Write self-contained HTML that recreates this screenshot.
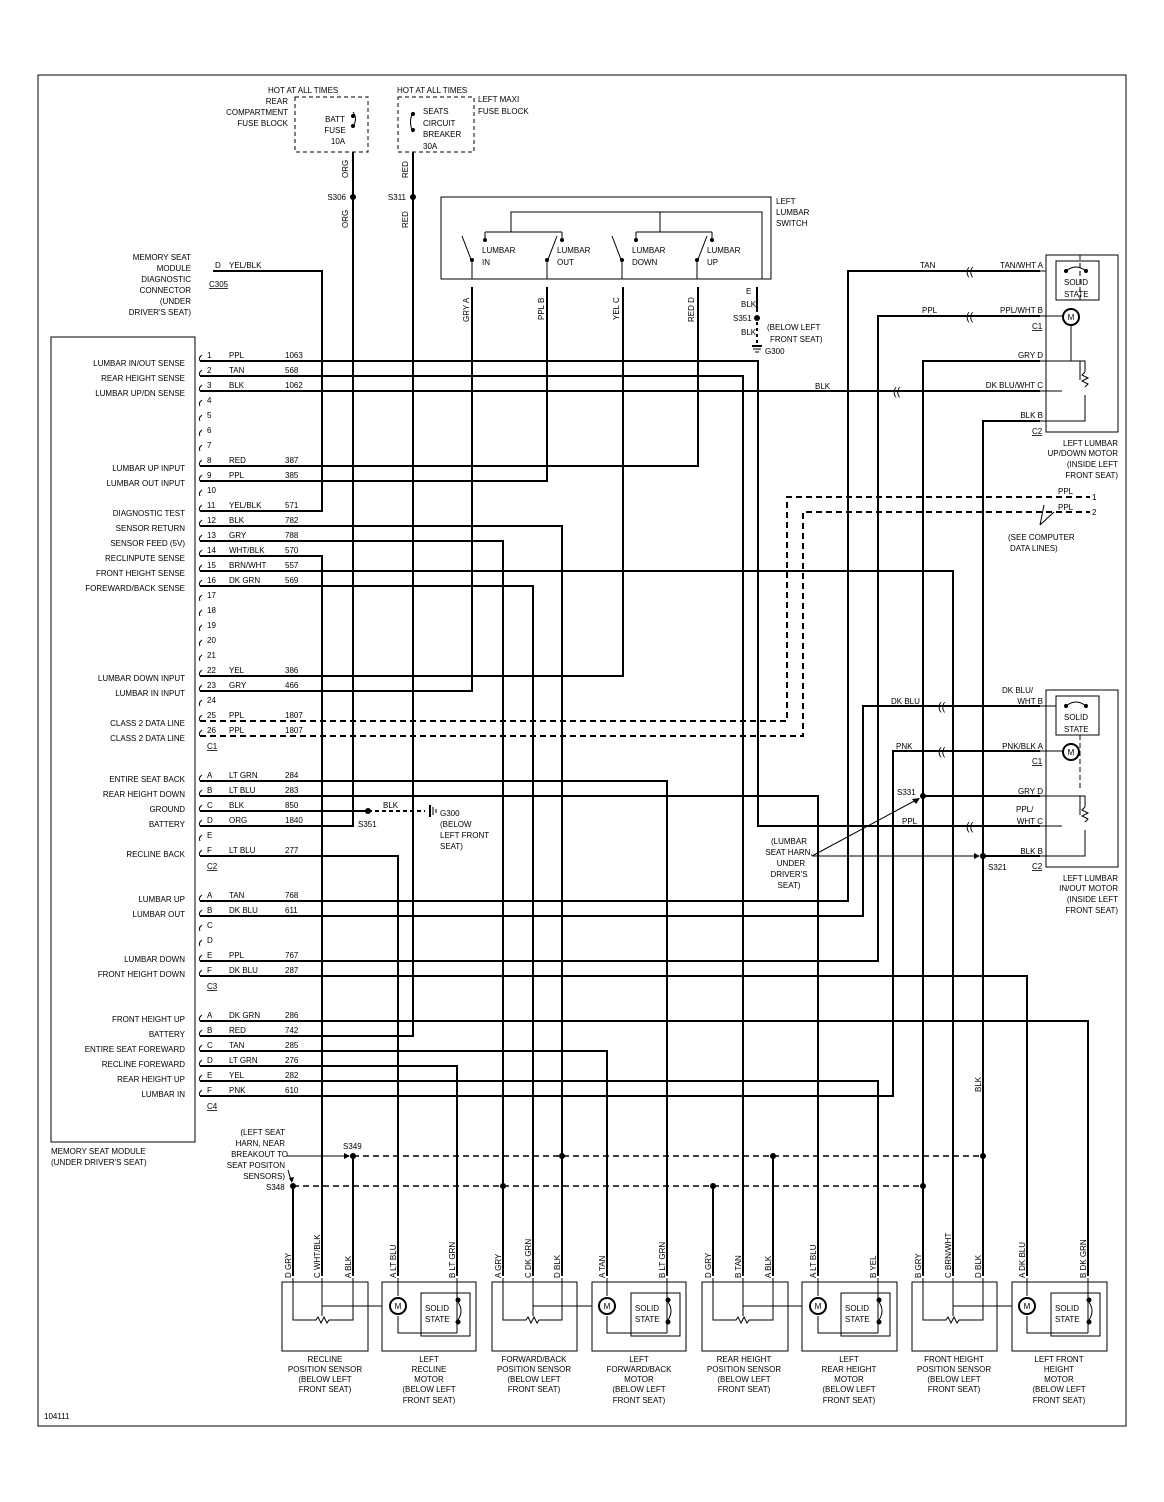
<!DOCTYPE html>
<html><head><meta charset="utf-8"><style>
body{margin:0;background:#fff}
svg{display:block}
text{font-family:"Liberation Sans",sans-serif;font-size:8px;fill:#000}
.r{text-anchor:end}.c{text-anchor:middle}
.w{fill:none;stroke:#000;stroke-width:2}
.n{fill:none;stroke:#000;stroke-width:1}
.d{fill:none;stroke:#000;stroke-width:2;stroke-dasharray:6,4}
</style></head><body>
<svg width="1164" height="1502" viewBox="0 0 1164 1502" xmlns="http://www.w3.org/2000/svg">
<defs>
<path id="cm" d="M202 -6 q-4 3 -2 6" fill="none" stroke="#000" stroke-width="1"/>
</defs>
<rect x="38" y="75" width="1088" height="1351" class="n"/>
<rect x="51" y="337" width="144" height="805" class="n"/>

<!-- top fuses -->
<rect x="295" y="97" width="73" height="55" fill="none" stroke="#000" stroke-dasharray="4,3"/>
<rect x="398" y="97" width="76" height="55" fill="none" stroke="#000" stroke-dasharray="4,3"/>
<text x="268" y="93">HOT AT ALL TIMES</text>
<text class="r" x="288" y="104">REAR</text><text class="r" x="288" y="115">COMPARTMENT</text><text class="r" x="288" y="126">FUSE BLOCK</text>
<text class="c" x="335" y="122">BATT</text><text class="c" x="335" y="133">FUSE</text><text class="c" x="338" y="144">10A</text>
<path class="n" d="M353 112 q5 7 0 14"/><circle cx="353" cy="116" r="2"/><circle cx="353" cy="126" r="2"/>
<text x="397" y="93">HOT AT ALL TIMES</text>
<text x="478" y="102">LEFT MAXI</text><text x="478" y="114">FUSE BLOCK</text>
<text x="423" y="114">SEATS</text><text x="423" y="126">CIRCUIT</text><text x="423" y="137">BREAKER</text><text x="423" y="149">30A</text>
<path class="n" d="M413 112 q-5 10 0 20"/><circle cx="413" cy="114" r="2"/><circle cx="413" cy="130" r="2"/>
<path class="w" d="M353 152 V197"/><path class="w" d="M413 152 V197"/>
<circle cx="353" cy="197" r="3"/><circle cx="413" cy="197" r="3"/>
<text class="r" x="346" y="200">S306</text><text class="r" x="406" y="200">S311</text>
<text transform="translate(348,178) rotate(-90)">ORG</text><text transform="translate(408,178) rotate(-90)">RED</text>
<text transform="translate(348,228) rotate(-90)">ORG</text><text transform="translate(408,228) rotate(-90)">RED</text>

<!-- lumbar switch -->
<rect x="441" y="197" width="330" height="82" class="n"/>
<text x="776" y="204">LEFT</text><text x="776" y="215">LUMBAR</text><text x="776" y="226">SWITCH</text>
<path class="n" d="M511 232 V212 H762 V279 M660 212 V232 M485 232 H562 M636 232 H712 M485 232 V240 M562 232 V240 M636 232 V240 M712 232 V240"/>
<path class="n" d="M472 279 V262 L462 236 M547 279 V262 L557 236 M622 279 V262 L612 236 M697 279 V262 L707 236"/>
<circle cx="472" cy="260" r="2"/><circle cx="547" cy="260" r="2"/><circle cx="622" cy="260" r="2"/><circle cx="697" cy="260" r="2"/>
<circle cx="485" cy="240" r="2"/><circle cx="562" cy="240" r="2"/><circle cx="636" cy="240" r="2"/><circle cx="712" cy="240" r="2"/>
<text x="482" y="253">LUMBAR</text><text x="482" y="265">IN</text>
<text x="557" y="253">LUMBAR</text><text x="557" y="265">OUT</text>
<text x="632" y="253">LUMBAR</text><text x="632" y="265">DOWN</text>
<text x="707" y="253">LUMBAR</text><text x="707" y="265">UP</text>
<text transform="translate(469,322) rotate(-90)">GRY  A</text>
<text transform="translate(544,320) rotate(-90)">PPL  B</text>
<text transform="translate(619,320) rotate(-90)">YEL  C</text>
<text transform="translate(694,322) rotate(-90)">RED  D</text>
<text x="746" y="294">E</text>
<text x="741" y="307">BLK</text><text x="733" y="321">S351</text><text x="741" y="335">BLK</text>
<text x="767" y="330">(BELOW LEFT</text><text x="770" y="342">FRONT SEAT)</text>
<text x="765" y="354">G300</text>
<path class="w" d="M757 287 V312"/><path class="d" d="M757 322 V343" style="stroke-dasharray:3,3"/>
<circle cx="757" cy="318" r="3"/><path class="w" d="M752 346 H762"/><path class="n" d="M753 349 H761 M755 352 H759"/>

<!-- diagnostic connector -->
<text class="r" x="191" y="260">MEMORY SEAT</text><text class="r" x="191" y="271">MODULE</text><text class="r" x="191" y="282">DIAGNOSTIC</text><text class="r" x="191" y="293">CONNECTOR</text><text class="r" x="191" y="304">(UNDER</text><text class="r" x="191" y="315">DRIVER'S SEAT)</text>
<text x="215" y="268">D</text><text x="229" y="268">YEL/BLK</text><text x="209" y="287" text-decoration="underline">C305</text>

<!-- module rows -->
<g>
<text x="207" y="358">1</text><text x="229" y="358">PPL</text><text x="285" y="358">1063</text>
<text x="207" y="373">2</text><text x="229" y="373">TAN</text><text x="285" y="373">568</text>
<text x="207" y="388">3</text><text x="229" y="388">BLK</text><text x="285" y="388">1062</text>
<text x="207" y="403">4</text><text x="207" y="418">5</text><text x="207" y="433">6</text><text x="207" y="448">7</text>
<text x="207" y="463">8</text><text x="229" y="463">RED</text><text x="285" y="463">387</text>
<text x="207" y="478">9</text><text x="229" y="478">PPL</text><text x="285" y="478">385</text>
<text x="207" y="493">10</text>
<text x="207" y="508">11</text><text x="229" y="508">YEL/BLK</text><text x="285" y="508">571</text>
<text x="207" y="523">12</text><text x="229" y="523">BLK</text><text x="285" y="523">782</text>
<text x="207" y="538">13</text><text x="229" y="538">GRY</text><text x="285" y="538">788</text>
<text x="207" y="553">14</text><text x="229" y="553">WHT/BLK</text><text x="285" y="553">570</text>
<text x="207" y="568">15</text><text x="229" y="568">BRN/WHT</text><text x="285" y="568">557</text>
<text x="207" y="583">16</text><text x="229" y="583">DK GRN</text><text x="285" y="583">569</text>
<text x="207" y="598">17</text><text x="207" y="613">18</text><text x="207" y="628">19</text><text x="207" y="643">20</text><text x="207" y="658">21</text>
<text x="207" y="673">22</text><text x="229" y="673">YEL</text><text x="285" y="673">386</text>
<text x="207" y="688">23</text><text x="229" y="688">GRY</text><text x="285" y="688">466</text>
<text x="207" y="703">24</text>
<text x="207" y="718">25</text><text x="229" y="718">PPL</text><text x="285" y="718">1807</text>
<text x="207" y="733">26</text><text x="229" y="733">PPL</text><text x="285" y="733">1807</text>
<text x="207" y="749" text-decoration="underline">C1</text>
<text x="207" y="778">A</text><text x="229" y="778">LT GRN</text><text x="285" y="778">284</text>
<text x="207" y="793">B</text><text x="229" y="793">LT BLU</text><text x="285" y="793">283</text>
<text x="207" y="808">C</text><text x="229" y="808">BLK</text><text x="285" y="808">850</text>
<text x="207" y="823">D</text><text x="229" y="823">ORG</text><text x="285" y="823">1840</text>
<text x="207" y="838">E</text>
<text x="207" y="853">F</text><text x="229" y="853">LT BLU</text><text x="285" y="853">277</text>
<text x="207" y="869" text-decoration="underline">C2</text>
<text x="207" y="898">A</text><text x="229" y="898">TAN</text><text x="285" y="898">768</text>
<text x="207" y="913">B</text><text x="229" y="913">DK BLU</text><text x="285" y="913">611</text>
<text x="207" y="928">C</text><text x="207" y="943">D</text>
<text x="207" y="958">E</text><text x="229" y="958">PPL</text><text x="285" y="958">767</text>
<text x="207" y="973">F</text><text x="229" y="973">DK BLU</text><text x="285" y="973">287</text>
<text x="207" y="989" text-decoration="underline">C3</text>
<text x="207" y="1018">A</text><text x="229" y="1018">DK GRN</text><text x="285" y="1018">286</text>
<text x="207" y="1033">B</text><text x="229" y="1033">RED</text><text x="285" y="1033">742</text>
<text x="207" y="1048">C</text><text x="229" y="1048">TAN</text><text x="285" y="1048">285</text>
<text x="207" y="1063">D</text><text x="229" y="1063">LT GRN</text><text x="285" y="1063">276</text>
<text x="207" y="1078">E</text><text x="229" y="1078">YEL</text><text x="285" y="1078">282</text>
<text x="207" y="1093">F</text><text x="229" y="1093">PNK</text><text x="285" y="1093">610</text>
<text x="207" y="1109" text-decoration="underline">C4</text>
</g>
<g>
<text class="r" x="185" y="366">LUMBAR IN/OUT SENSE</text>
<text class="r" x="185" y="381">REAR HEIGHT SENSE</text>
<text class="r" x="185" y="396">LUMBAR UP/DN SENSE</text>
<text class="r" x="185" y="471">LUMBAR UP INPUT</text>
<text class="r" x="185" y="486">LUMBAR OUT INPUT</text>
<text class="r" x="185" y="516">DIAGNOSTIC TEST</text>
<text class="r" x="185" y="531">SENSOR RETURN</text>
<text class="r" x="185" y="546">SENSOR FEED (5V)</text>
<text class="r" x="185" y="561">RECLINPUTE SENSE</text>
<text class="r" x="185" y="576">FRONT HEIGHT SENSE</text>
<text class="r" x="185" y="591">FOREWARD/BACK SENSE</text>
<text class="r" x="185" y="681">LUMBAR DOWN INPUT</text>
<text class="r" x="185" y="696">LUMBAR IN INPUT</text>
<text class="r" x="185" y="726">CLASS 2 DATA LINE</text>
<text class="r" x="185" y="741">CLASS 2 DATA LINE</text>
<text class="r" x="185" y="782">ENTIRE SEAT BACK</text>
<text class="r" x="185" y="797">REAR HEIGHT DOWN</text>
<text class="r" x="185" y="812">GROUND</text>
<text class="r" x="185" y="827">BATTERY</text>
<text class="r" x="185" y="857">RECLINE BACK</text>
<text class="r" x="185" y="902">LUMBAR UP</text>
<text class="r" x="185" y="917">LUMBAR OUT</text>
<text class="r" x="185" y="962">LUMBAR DOWN</text>
<text class="r" x="185" y="977">FRONT HEIGHT DOWN</text>
<text class="r" x="185" y="1022">FRONT HEIGHT UP</text>
<text class="r" x="185" y="1037">BATTERY</text>
<text class="r" x="185" y="1052">ENTIRE SEAT FOREWARD</text>
<text class="r" x="185" y="1067">RECLINE FOREWARD</text>
<text class="r" x="185" y="1082">REAR HEIGHT UP</text>
<text class="r" x="185" y="1097">LUMBAR IN</text>
</g>
<text x="51" y="1154">MEMORY SEAT MODULE</text><text x="51" y="1165">(UNDER DRIVER'S SEAT)</text>

<!-- wires -->
<path class="w" d="M200 361 H758 V826 H1040"/>
<path class="w" d="M200 376 H743 V1276"/>
<path class="w" d="M200 391 H1040"/>
<path class="w" d="M200 466 H698 V287"/>
<path class="w" d="M200 481 H547 V287"/>
<path class="w" d="M200 511 H322 V271 H213"/>
<path class="w" d="M200 526 H562 V1276"/>
<path class="w" d="M200 541 H503 V1276"/>
<path class="w" d="M200 556 H322 V1276"/>
<path class="w" d="M200 571 H953 V1276"/>
<path class="w" d="M200 586 H533 V1276"/>
<path class="w" d="M200 676 H623 V287"/>
<path class="w" d="M200 691 H472 V287"/>
<path class="d" d="M200 721 H787 V497 H1090"/>
<path class="d" d="M200 736 H803 V512 H1090"/>
<path class="w" d="M200 781 H667 V1276"/>
<path class="w" d="M200 796 H818 V1276"/>
<path class="w" d="M200 811 H368"/>
<path class="d" d="M368 811 H425" style="stroke-dasharray:4,3"/>
<path class="w" d="M430 805 V817"/><path class="n" d="M433 807 V815 M436 809 V813"/>
<path class="w" d="M200 826 H353 V197"/>
<path class="w" d="M200 856 H398 V1276"/>
<path class="w" d="M200 901 H848 V271 H1040"/>
<path class="w" d="M200 916 H863 V706 H1040"/>
<path class="w" d="M200 961 H878 V316 H1040"/>
<path class="w" d="M200 976 H1027 V1276"/>
<path class="w" d="M200 1021 H1088 V1276"/>
<path class="w" d="M200 1036 H413 V197"/>
<path class="w" d="M200 1051 H607 V1276"/>
<path class="w" d="M200 1066 H457 V1276"/>
<path class="w" d="M200 1081 H878 V1276"/>
<path class="w" d="M200 1096 H893 V751 H1040"/>
<path class="w" d="M1040 361 H923 V1276 M923 796 H1040"/>
<path class="w" d="M1040 421 H983 V1276 M983 856 H1040"/>
<path class="d" d="M353 1156 H983" style="stroke-width:1.5"/>
<path class="d" d="M293 1186 H923" style="stroke-width:1.5"/>
<path class="w" d="M293 1186 V1276 M353 1156 V1276 M713 1186 V1276 M773 1156 V1276"/>
<g>
<circle cx="353" cy="1156" r="3"/><circle cx="562" cy="1156" r="3"/><circle cx="773" cy="1156" r="3"/><circle cx="983" cy="1156" r="3"/>
<circle cx="293" cy="1186" r="3"/><circle cx="503" cy="1186" r="3"/><circle cx="713" cy="1186" r="3"/><circle cx="923" cy="1186" r="3"/>
<circle cx="368" cy="811" r="3"/><circle cx="923" cy="796" r="3"/><circle cx="983" cy="856" r="3"/>
</g>
<text x="358" y="827">S351</text><text x="383" y="808">BLK</text>
<text x="440" y="816">G300</text><text x="440" y="827">(BELOW</text><text x="440" y="838">LEFT FRONT</text><text x="440" y="849">SEAT)</text>
<text x="815" y="389">BLK</text>
<text transform="translate(981,1092) rotate(-90)">BLK</text>

<!-- connector marks on module rows -->
<g>
<use href="#cm" y="361"/><use href="#cm" y="376"/><use href="#cm" y="391"/><use href="#cm" y="406"/><use href="#cm" y="421"/><use href="#cm" y="436"/><use href="#cm" y="451"/><use href="#cm" y="466"/><use href="#cm" y="481"/><use href="#cm" y="496"/><use href="#cm" y="511"/><use href="#cm" y="526"/><use href="#cm" y="541"/><use href="#cm" y="556"/><use href="#cm" y="571"/><use href="#cm" y="586"/><use href="#cm" y="601"/><use href="#cm" y="616"/><use href="#cm" y="631"/><use href="#cm" y="646"/><use href="#cm" y="661"/><use href="#cm" y="676"/><use href="#cm" y="691"/><use href="#cm" y="706"/><use href="#cm" y="721"/><use href="#cm" y="736"/>
<use href="#cm" y="781"/><use href="#cm" y="796"/><use href="#cm" y="811"/><use href="#cm" y="826"/><use href="#cm" y="841"/><use href="#cm" y="856"/>
<use href="#cm" y="901"/><use href="#cm" y="916"/><use href="#cm" y="931"/><use href="#cm" y="946"/><use href="#cm" y="961"/><use href="#cm" y="976"/>
<use href="#cm" y="1021"/><use href="#cm" y="1036"/><use href="#cm" y="1051"/><use href="#cm" y="1066"/><use href="#cm" y="1081"/><use href="#cm" y="1096"/>
</g>

<!-- inline connectors (( -->
<g font-size="11">
<text x="966" y="275" style="font-size:11px">((</text>
<text x="966" y="320" style="font-size:11px">((</text>
<text x="893" y="395" style="font-size:11px">((</text>
<text x="938" y="710" style="font-size:11px">((</text>
<text x="938" y="755" style="font-size:11px">((</text>
<text x="966" y="830" style="font-size:11px">((</text>
</g>

<!-- up/down motor -->
<rect x="1046" y="255" width="72" height="177" class="n"/>
<rect x="1056" y="261" width="43" height="39" class="n"/>
<text x="1064" y="285">SOLID</text><text x="1064" y="297">STATE</text>
<path class="n" d="M1066 271 q10 -8 20 0"/><circle cx="1066" cy="271" r="2"/><circle cx="1086" cy="271" r="2"/>
<circle cx="1071" cy="317" r="8" fill="#fff" stroke="#000" stroke-width="2"/><text class="c" x="1071" y="320">M</text>
<path class="n" d="M1040 271 H1046 M1040 316 H1063 M1040 361 H1071 V333 M1071 325 V361 M1040 391 H1062 M1040 421 H1085 V395 M1071 361 H1080 V380 M1085 372 l-3 3 6 3 -6 3 6 3 -3 3 M1080 361 H1085 V372"/>
<path class="n" d="M1080 255 V300" stroke-dasharray="5,3"/>
<text class="r" x="1043" y="268">TAN/WHT  A</text><text x="920" y="268">TAN</text>
<text class="r" x="1043" y="313">PPL/WHT  B</text><text x="922" y="313">PPL</text>
<text x="1032" y="329" text-decoration="underline">C1</text>
<text class="r" x="1043" y="358">GRY  D</text>
<text class="r" x="1043" y="388">DK BLU/WHT  C</text>
<text class="r" x="1043" y="418">BLK  B</text>
<text x="1032" y="434" text-decoration="underline">C2</text>
<text class="r" x="1118" y="446">LEFT LUMBAR</text><text class="r" x="1118" y="456">UP/DOWN MOTOR</text><text class="r" x="1118" y="467">(INSIDE LEFT</text><text class="r" x="1118" y="478">FRONT SEAT)</text>
<text x="1058" y="494">PPL</text><text x="1092" y="500">1</text><text x="1058" y="510">PPL</text><text x="1092" y="515">2</text>
<path class="n" d="M1040 525 L1044 505 M1040 525 L1054 512"/>
<text x="1008" y="540">(SEE COMPUTER</text><text x="1010" y="551">DATA LINES)</text>

<!-- in/out motor -->
<rect x="1046" y="690" width="72" height="177" class="n"/>
<rect x="1056" y="696" width="43" height="39" class="n"/>
<text x="1064" y="720">SOLID</text><text x="1064" y="732">STATE</text>
<path class="n" d="M1066 706 q10 -8 20 0"/><circle cx="1066" cy="706" r="2"/><circle cx="1086" cy="706" r="2"/>
<circle cx="1071" cy="752" r="8" fill="#fff" stroke="#000" stroke-width="2"/><text class="c" x="1071" y="755">M</text>
<path class="n" d="M1040 706 H1056 M1040 751 H1063 M1040 796 H1080 V815 M1085 807 l-3 3 6 3 -6 3 6 3 -3 3 M1040 826 H1062 M1040 856 H1085 V830 M1080 796 H1085 V807"/>
<path class="n" d="M1080 735 V790" stroke-dasharray="5,3"/>
<text x="891" y="704">DK BLU</text><text x="1002" y="693">DK BLU/</text><text class="r" x="1043" y="704">WHT B</text>
<text x="896" y="749">PNK</text><text class="r" x="1043" y="749">PNK/BLK  A</text>
<text x="1032" y="764" text-decoration="underline">C1</text>
<text x="897" y="795">S331</text>
<text class="r" x="1043" y="794">GRY  D</text>
<text x="1016" y="812">PPL/</text><text class="r" x="1043" y="824">WHT C</text><text x="902" y="824">PPL</text>
<text class="r" x="1043" y="854">BLK  B</text>
<text x="1032" y="869" text-decoration="underline">C2</text><text x="988" y="870">S321</text>
<text class="r" x="1118" y="881">LEFT LUMBAR</text><text class="r" x="1118" y="891">IN/OUT MOTOR</text><text class="r" x="1118" y="902">(INSIDE LEFT</text><text class="r" x="1118" y="913">FRONT SEAT)</text>
<text class="c" x="789" y="844">(LUMBAR</text><text class="c" x="789" y="855">SEAT HARN,</text><text class="c" x="791" y="866">UNDER</text><text class="c" x="789" y="877">DRIVER'S</text><text class="c" x="789" y="888">SEAT)</text>
<path class="n" d="M812 856 L918 799 M812 856 H976"/>
<path d="M920 798 l-8 1 4 5z M980 856 l-6 -3 v6z"/>

<!-- left seat harness -->
<text class="r" x="285" y="1135">(LEFT SEAT</text><text class="r" x="285" y="1146">HARN, NEAR</text><text class="r" x="288" y="1157">BREAKOUT TO</text><text class="r" x="285" y="1168">SEAT POSITON</text><text class="r" x="285" y="1179">SENSORS)</text>
<path class="n" d="M287 1156 H347 M288 1170 L291 1180"/><path d="M350 1156 l-6 -3 v6z M292 1183 l-3 -5 5 -1z"/>
<text x="343" y="1149">S349</text><text x="266" y="1190">S348</text>

<!-- bottom components -->
<g>
<rect x="282" y="1282" width="86" height="69" class="n"/>
<rect x="382" y="1282" width="94" height="69" class="n"/>
<rect x="492" y="1282" width="85" height="69" class="n"/>
<rect x="592" y="1282" width="94" height="69" class="n"/>
<rect x="702" y="1282" width="86" height="69" class="n"/>
<rect x="802" y="1282" width="95" height="69" class="n"/>
<rect x="912" y="1282" width="85" height="69" class="n"/>
<rect x="1012" y="1282" width="95" height="69" class="n"/>
<!-- sensors -->
<path class="n" d="M293 1278 V1320 H316 l2 -3 3 6 3 -6 3 6 2 -3 H353 V1278 M322 1278 V1316 M322 1306 H382"/>
<path class="n" d="M503 1278 V1320 H526 l2 -3 3 6 3 -6 3 6 2 -3 H562 V1278 M533 1278 V1316 M533 1306 H592"/>
<path class="n" d="M713 1278 V1320 H736 l2 -3 3 6 3 -6 3 6 2 -3 H773 V1278 M743 1278 V1316 M743 1306 H802"/>
<path class="n" d="M923 1278 V1320 H946 l2 -3 3 6 3 -6 3 6 2 -3 H983 V1278 M953 1278 V1316 M953 1306 H1012"/>
<g stroke="#000" stroke-dasharray="5,3" fill="none"><path d="M330 1306 H382 M541 1306 H592 M751 1306 H802 M961 1306 H1012"/></g>
<!-- motors -->
<path class="n" d="M398 1278 V1296 M398 1316 V1333 H457 M457 1278 V1333"/>
<path class="n" d="M607 1278 V1296 M607 1316 V1333 H667 M667 1278 V1333"/>
<path class="n" d="M818 1278 V1296 M818 1316 V1333 H878 M878 1278 V1333"/>
<path class="n" d="M1027 1278 V1296 M1027 1316 V1333 H1088 M1088 1278 V1333"/>
<rect x="421" y="1293" width="49" height="43" class="n" fill="#fff"/>
<rect x="631" y="1293" width="49" height="43" class="n" fill="#fff"/>
<rect x="841" y="1293" width="49" height="43" class="n" fill="#fff"/>
<rect x="1051" y="1293" width="49" height="43" class="n" fill="#fff"/>
<path class="n" d="M458 1302 q6 9 0 18 M668 1302 q6 9 0 18 M879 1302 q6 9 0 18 M1089 1302 q6 9 0 18"/>
<circle cx="458" cy="1300" r="2.5"/><circle cx="458" cy="1322" r="2.5"/><circle cx="668" cy="1300" r="2.5"/><circle cx="668" cy="1322" r="2.5"/>
<circle cx="879" cy="1300" r="2.5"/><circle cx="879" cy="1322" r="2.5"/><circle cx="1089" cy="1300" r="2.5"/><circle cx="1089" cy="1322" r="2.5"/>
<g fill="#fff" stroke="#000" stroke-width="2">
<circle cx="398" cy="1306" r="8"/><circle cx="607" cy="1306" r="8"/><circle cx="818" cy="1306" r="8"/><circle cx="1027" cy="1306" r="8"/></g>
<text class="c" x="398" y="1309">M</text><text class="c" x="607" y="1309">M</text><text class="c" x="818" y="1309">M</text><text class="c" x="1027" y="1309">M</text>
<text x="425" y="1311">SOLID</text><text x="425" y="1322">STATE</text>
<text x="635" y="1311">SOLID</text><text x="635" y="1322">STATE</text>
<text x="845" y="1311">SOLID</text><text x="845" y="1322">STATE</text>
<text x="1055" y="1311">SOLID</text><text x="1055" y="1322">STATE</text>
</g>
<!-- pin labels bottom -->
<g>
<text transform="translate(291,1278) rotate(-90)">D    GRY</text>
<text transform="translate(320,1278) rotate(-90)">C   WHT/BLK</text>
<text transform="translate(351,1278) rotate(-90)">A    BLK</text>
<text transform="translate(396,1278) rotate(-90)">A   LT BLU</text>
<text transform="translate(455,1278) rotate(-90)">B   LT GRN</text>
<text transform="translate(501,1278) rotate(-90)">A    GRY</text>
<text transform="translate(531,1278) rotate(-90)">C   DK GRN</text>
<text transform="translate(560,1278) rotate(-90)">D    BLK</text>
<text transform="translate(605,1278) rotate(-90)">A    TAN</text>
<text transform="translate(665,1278) rotate(-90)">B   LT GRN</text>
<text transform="translate(711,1278) rotate(-90)">D    GRY</text>
<text transform="translate(741,1278) rotate(-90)">B    TAN</text>
<text transform="translate(771,1278) rotate(-90)">A    BLK</text>
<text transform="translate(816,1278) rotate(-90)">A   LT BLU</text>
<text transform="translate(876,1278) rotate(-90)">B    YEL</text>
<text transform="translate(921,1278) rotate(-90)">B    GRY</text>
<text transform="translate(951,1278) rotate(-90)">C   BRN/WHT</text>
<text transform="translate(981,1278) rotate(-90)">D    BLK</text>
<text transform="translate(1025,1278) rotate(-90)">A   DK BLU</text>
<text transform="translate(1086,1278) rotate(-90)">B   DK GRN</text>
</g>
<!-- captions -->
<g class="c">
<text class="c" x="325" y="1362">RECLINE</text><text class="c" x="325" y="1372">POSITION SENSOR</text><text class="c" x="325" y="1382">(BELOW LEFT</text><text class="c" x="325" y="1392">FRONT SEAT)</text>
<text class="c" x="429" y="1362">LEFT</text><text class="c" x="429" y="1372">RECLINE</text><text class="c" x="429" y="1382">MOTOR</text><text class="c" x="429" y="1392">(BELOW LEFT</text><text class="c" x="429" y="1403">FRONT SEAT)</text>
<text class="c" x="534" y="1362">FORWARD/BACK</text><text class="c" x="534" y="1372">POSITION SENSOR</text><text class="c" x="534" y="1382">(BELOW LEFT</text><text class="c" x="534" y="1392">FRONT SEAT)</text>
<text class="c" x="639" y="1362">LEFT</text><text class="c" x="639" y="1372">FORWARD/BACK</text><text class="c" x="639" y="1382">MOTOR</text><text class="c" x="639" y="1392">(BELOW LEFT</text><text class="c" x="639" y="1403">FRONT SEAT)</text>
<text class="c" x="744" y="1362">REAR HEIGHT</text><text class="c" x="744" y="1372">POSITION SENSOR</text><text class="c" x="744" y="1382">(BELOW LEFT</text><text class="c" x="744" y="1392">FRONT SEAT)</text>
<text class="c" x="849" y="1362">LEFT</text><text class="c" x="849" y="1372">REAR HEIGHT</text><text class="c" x="849" y="1382">MOTOR</text><text class="c" x="849" y="1392">(BELOW LEFT</text><text class="c" x="849" y="1403">FRONT SEAT)</text>
<text class="c" x="954" y="1362">FRONT HEIGHT</text><text class="c" x="954" y="1372">POSITION SENSOR</text><text class="c" x="954" y="1382">(BELOW LEFT</text><text class="c" x="954" y="1392">FRONT SEAT)</text>
<text class="c" x="1059" y="1362">LEFT FRONT</text><text class="c" x="1059" y="1372">HEIGHT</text><text class="c" x="1059" y="1382">MOTOR</text><text class="c" x="1059" y="1392">(BELOW LEFT</text><text class="c" x="1059" y="1403">FRONT SEAT)</text>
</g>
<text x="44" y="1419">104111</text>
</svg>
</body></html>
